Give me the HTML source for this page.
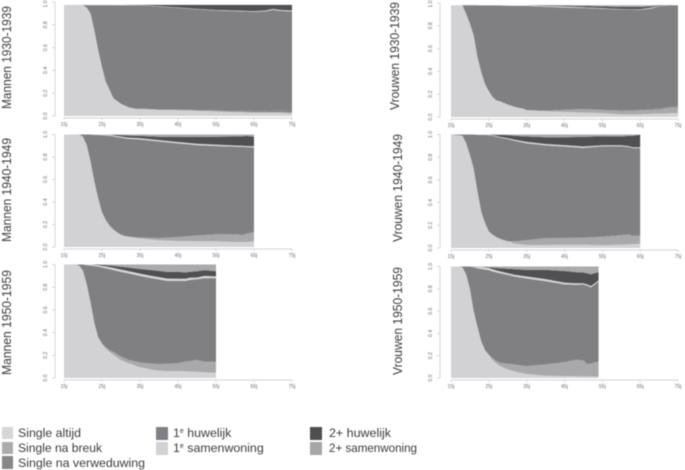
<!DOCTYPE html>
<html lang="nl">
<head>
<meta charset="utf-8">
<title>Levensloop per geboortecohort</title>
<style>
html,body{margin:0;padding:0;background:#fff;}
#chart{display:block;width:685px;height:470px;filter:blur(.45px);font-family:"Liberation Sans",sans-serif;}
.tick{font-size:5.2px;fill:#6e6e70;}
.title{font-size:12.6px;fill:#3c3c3e;}
.legend{font-size:12.4px;fill:#3c3c3e;}
.sup{font-size:7px;}
</style>
</head>
<body>
<svg id="chart" xmlns="http://www.w3.org/2000/svg" width="685" height="470" viewBox="0 0 685 470">
  <g id="panels"></g>

  <text class="title" transform="translate(11,109) rotate(-90)" textLength="103" lengthAdjust="spacingAndGlyphs">Mannen 1930-1939</text>
  <text class="title" transform="translate(11,242) rotate(-90)" textLength="104" lengthAdjust="spacingAndGlyphs">Mannen 1940-1949</text>
  <text class="title" transform="translate(11,375) rotate(-90)" textLength="105" lengthAdjust="spacingAndGlyphs">Mannen 1950-1959</text>
  <text class="title" transform="translate(399,110) rotate(-90)" textLength="108" lengthAdjust="spacingAndGlyphs">Vrouwen 1930-1939</text>
  <text class="title" transform="translate(402,242) rotate(-90)" textLength="108" lengthAdjust="spacingAndGlyphs">Vrouwen 1940-1949</text>
  <text class="title" transform="translate(402,375) rotate(-90)" textLength="108" lengthAdjust="spacingAndGlyphs">Vrouwen 1950-1959</text>

  <g>
    <g>
      <rect x="2" y="427" width="11" height="12" fill="#d6d6d8"/>
      <text class="legend" x="18" y="437" textLength="63" lengthAdjust="spacingAndGlyphs">Single altijd</text>
    </g>
    <g>
      <rect x="2" y="442" width="11" height="12" fill="#acacae"/>
      <text class="legend" x="18" y="452" textLength="84" lengthAdjust="spacingAndGlyphs">Single na breuk</text>
    </g>
    <g>
      <rect x="2" y="456" width="11" height="13" fill="#87878a"/>
      <text class="legend" x="18" y="467" textLength="127" lengthAdjust="spacingAndGlyphs">Single na verweduwing</text>
    </g>
    <g>
      <rect x="156" y="427" width="12" height="13" fill="#808084"/>
      <text class="legend" x="173" y="437">1<tspan class="sup" dy="-4">e</tspan><tspan dy="4"> huwelijk</tspan></text>
    </g>
    <g>
      <rect x="156" y="442" width="12" height="13" fill="#d2d2d3"/>
      <text class="legend" x="173" y="452">1<tspan class="sup" dy="-4">e</tspan><tspan dy="4"> samenwoning</tspan></text>
    </g>
    <g>
      <rect x="310" y="427" width="12" height="13" fill="#4f4f52"/>
      <text class="legend" x="329" y="437" textLength="62" lengthAdjust="spacingAndGlyphs">2+ huwelijk</text>
    </g>
    <g>
      <rect x="310" y="442" width="12" height="13" fill="#a6a6a8"/>
      <text class="legend" x="329" y="452" textLength="88" lengthAdjust="spacingAndGlyphs">2+ samenwoning</text>
    </g>
  </g>
</svg>

<script>
const xTickLabels = ["15j", "25j", "35j", "45j", "55j", "65j", "75j"];
const xTickAges = [15, 25, 35, 45, 55, 65, 75];
const yTickLabels = ["0.0", "0.2", "0.4", "0.6", "0.8", "1.0"];
const yTickValues = [0, 0.2, 0.4, 0.6, 0.8, 1];

/* Mannen 1930-1939 */
const m30Ages = [15,20,21,22,23,24,25,26,27,28,29,30,32,34,36,40,45,50,55,60,65,68,70,72,75];
const m30Altijd = [.975,.975,.95,.90,.75,.58,.43,.30,.23,.155,.13,.105,.075,.06,.06,.053,.05,.045,.04,.033,.03,.03,.03,.028,.025];
const m30Breuk = [0,0,0,0,0,0,0,0,0,.002,.002,.003,.003,.004,.004,.004,.004,.004,.005,.005,.005,.005,.005,.005,.005];
const m30Verw = [0,0,0,0,0,0,0,0,0,0,0,0,0,0,0,0,.002,.004,.006,.008,.01,.012,.014,.016,.018];
const m30Samen1 = [0,0,.002,.002,.002,.002,.002,.002,.002,.002,.002,.003,.003,.003,.003,.004,.004,.004,.004,.005,.005,.007,.009,.008,.008];
const m30Huw2 = [0,0,0,0,0,0,0,0,0,0,0,0,.001,.002,.003,.012,.022,.035,.045,.05,.055,.05,.035,.045,.05];
const m30Samen2 = [0,0,0,0,0,0,0,0,0,0,0,0,0,0,0,0,0,0,0,0,0,0,0,0,0];

/* Mannen 1940-1949 */
const m40Ages = [15,19,20,21,22,23,24,25,26,27,28,29,30,31,32,35,40,45,50,55,60,62,63,65];
const m40Altijd = [1,1,.98,.905,.76,.58,.435,.31,.24,.19,.155,.13,.11,.095,.09,.077,.06,.053,.05,.05,.045,.045,.045,.05];
const m40Breuk = [0,0,0,0,0,0,0,0,0,0,0,0,0,.003,.003,.006,.02,.035,.05,.06,.065,.06,.07,.08];
const m40Verw = [0,0,0,0,0,0,0,0,0,0,0,0,0,0,0,0,0,.001,.002,.003,.005,.005,.006,.006];
const m40Samen1 = [0,0,0,0,0,.002,.004,.006,.007,.008,.009,.01,.01,.011,.011,.012,.012,.012,.012,.012,.01,.01,.01,.01];
const m40Huw2 = [0,0,0,0,0,0,0,0,0,0,.004,.008,.012,.015,.018,.02,.03,.047,.06,.07,.08,.085,.09,.083];
const m40Samen2 = [0,0,0,0,0,0,0,0,.002,.003,.004,.005,.006,.008,.01,.012,.02,.02,.022,.02,.018,.015,.012,.02];

/* Mannen 1950-1959 */
const m50Ages = [15,18,19,20,21,22,23,24,25,26,27,28,30,32,35,38,40,42,45,47,48,50,52,55];
const m50Altijd = [1,1,.99,.945,.825,.665,.485,.36,.30,.26,.23,.205,.158,.13,.096,.075,.064,.062,.061,.058,.056,.055,.05,.046];
const m50Breuk = [0,0,0,0,0,0,0,0,.005,.01,.015,.025,.03,.03,.042,.052,.059,.062,.068,.085,.09,.103,.09,.094];
const m50Verw = [0,0,0,0,0,0,0,0,0,0,0,0,0,0,0,0,0,.001,.002,.002,.003,.003,.003,.004];
const m50Samen1 = [0,0,0,0,.005,.01,.012,.014,.015,.016,.018,.018,.02,.02,.02,.02,.02,.02,.02,.02,.018,.015,.02,.015];
const m50Huw2 = [0,0,0,0,0,0,.002,.005,.01,.012,.015,.018,.025,.03,.04,.05,.055,.058,.06,.055,.052,.055,.05,.045];
const m50Samen2 = [0,0,0,0,0,0,0,0,.002,.005,.008,.012,.02,.028,.04,.05,.056,.065,.065,.07,.065,.06,.05,.06];

/* Vrouwen 1930-1939 */
const v30Ages = [15,18,19,20,21,22,23,24,25,26,27,28,30,32,34,35,40,45,50,55,60,65,68,70,73,75];
const v30Altijd = [.98,.98,.906,.82,.716,.526,.395,.29,.228,.175,.146,.137,.11,.088,.073,.058,.05,.044,.038,.035,.023,.023,.028,.03,.033,.035];
const v30Breuk = [0,0,0,0,0,0,0,0,0,0,0,0,0,0,0,.003,.005,.02,.03,.025,.03,.035,.035,.035,.05,.05];
const v30Verw = [0,0,0,0,0,0,0,0,0,0,0,0,0,0,0,0,0,0,.002,.003,.005,.006,.007,.008,.008,.008];
const v30Samen1 = [0,0,0,0,0,0,.002,.002,.002,.002,.002,.002,.004,.005,.005,.005,.008,.01,.006,.005,.003,.004,.008,.004,0,0];
const v30Huw2 = [0,0,0,0,0,0,0,0,0,0,0,0,0,0,0,0,.005,.008,.012,.015,.018,.02,.012,.005,0,0];
const v30Samen2 = [0,0,0,0,0,0,0,0,0,0,0,0,0,0,0,0,0,.002,.005,.01,.015,.015,.008,0,0,0];

/* Vrouwen 1940-1949 */
const v40Ages = [15,18,19,20,21,22,23,24,25,26,27,28,30,32,35,40,45,50,55,60,62,63,65];
const v40Altijd = [1,.99,.926,.82,.70,.50,.32,.22,.147,.118,.097,.08,.059,.038,.026,.026,.029,.029,.024,.03,.032,.034,.038];
const v40Breuk = [0,0,0,0,0,0,0,0,0,0,0,0,0,.021,.042,.062,.059,.06,.073,.08,.085,.07,.065];
const v40Verw = [0,0,0,0,0,0,0,0,0,0,0,0,0,0,0,0,.001,.002,.003,.004,.004,.005,.005];
const v40Samen1 = [0,0,0,0,0,.002,.003,.004,.006,.006,.007,.007,.008,.01,.012,.012,.012,.012,.008,.008,.008,.008,.008];
const v40Huw2 = [0,0,0,0,0,0,0,0,0,.005,.01,.018,.026,.035,.047,.06,.07,.085,.08,.077,.09,.1,.11];
const v40Samen2 = [0,0,0,0,0,0,0,0,0,0,.002,.004,.006,.012,.018,.024,.024,.021,.015,.018,.012,.012,.002];

/* Vrouwen 1950-1959 */
const v50Ages = [15,17,18,19,20,21,22,23,24,25,26,27,28,30,32,35,40,45,48,50,51,52,54];
const v50Altijd = [1,1,.994,.93,.80,.60,.46,.33,.25,.207,.16,.13,.107,.077,.057,.036,.02,.018,.016,.015,.015,.014,.012];
const v50Breuk = [0,0,0,0,0,0,0,0,0,.003,.016,.022,.03,.051,.063,.071,.102,.122,.145,.14,.107,.115,.134];
const v50Verw = [0,0,0,0,0,0,0,0,0,0,0,0,0,0,0,0,0,.002,.003,.003,.003,.003,.004];
const v50Samen1 = [0,0,0,0,0,.005,.015,.018,.02,.02,.02,.018,.016,.015,.016,.018,.018,.015,.014,.012,.012,.012,.01];
const v50Huw2 = [0,0,0,0,0,.001,.002,.003,.004,.006,.015,.022,.028,.04,.05,.06,.083,.105,.1,.096,.1,.105,.075];
const v50Samen2 = [0,0,0,0,0,0,0,.002,.004,.006,.01,.013,.016,.02,.025,.03,.03,.04,.05,.054,.06,.07,.05];

const SVGNS = "http://www.w3.org/2000/svg";
const panelsRoot = document.getElementById("panels");

const stateNames = ["single-altijd", "single-na-breuk", "single-na-verweduwing", "1e-huwelijk", "1e-samenwoning", "2-plus-huwelijk", "2-plus-samenwoning"];
const stateColors = ["#d2d2d4", "#a9a9ab", "#858588", "#808083", "#d6d6d6", "#505053", "#aaaaac"];

function make(tag, attrs, parent) {
  const el = document.createElementNS(SVGNS, tag);
  for (const k in attrs) el.setAttribute(k, attrs[k]);
  parent.appendChild(el);
  return el;
}

function drawPanel(p) {
  const xScale = a => p.x15 + (a - 15) * (p.x75 - p.x15) / 60;
  const yScale = v => p.y0 - v * (p.y0 - p.y1);

  const g = make("g", {}, panelsRoot);
  
  

  /* huwelijk is the remainder: every state shares up to the panel total */
  const huwelijk = p.ages.map((_, i) => Math.max(0, p.total - p.altijd[i] - p.breuk[i] - p.verw[i] - p.samen1[i] - p.huw2[i] - p.samen2[i]));
  const stack = [p.altijd, p.breuk, p.verw, huwelijk, p.samen1, p.huw2, p.samen2];

  const lower = p.ages.map(() => 0);
  stack.forEach((series, s) => {
    const upper = lower.map((v, i) => v + series[i]);
    const top = p.ages.map((a, i) => xScale(a).toFixed(2) + "," + yScale(upper[i]).toFixed(2));
    const bottom = p.ages.map((a, i) => xScale(a).toFixed(2) + "," + yScale(lower[i]).toFixed(2)).reverse();
    const area = make("polygon", { points: top.concat(bottom).join(" "), fill: stateColors[s] }, g);
    
    
    upper.forEach((v, i) => { lower[i] = v; });
  });

  /* x axis */
  const xAxisY = p.y0 + 2;
  const xAxis = make("g", {}, g);
  
  
  make("line", { x1: xScale(15), x2: xScale(75), y1: xAxisY, y2: xAxisY, stroke: "#c4c4c6", "stroke-width": .7 }, xAxis);
  xTickAges.forEach((a, i) => {
    make("line", { x1: xScale(a), x2: xScale(a), y1: xAxisY, y2: xAxisY + 2, stroke: "#c4c4c6", "stroke-width": .7 }, xAxis);
    const label = make("text", { class: "tick", x: xScale(a), y: xAxisY + 8, "text-anchor": "middle" }, xAxis);
    
    
    label.textContent = xTickLabels[i];
  });

  /* y axis */
  const yAxis = make("g", {}, g);
  
  
  make("line", { x1: p.axisX, x2: p.axisX, y1: yScale(0), y2: yScale(1), stroke: "#c4c4c6", "stroke-width": .7 }, yAxis);
  yTickValues.forEach((v, i) => {
    make("line", { x1: p.axisX - 3, x2: p.axisX, y1: yScale(v), y2: yScale(v), stroke: "#c4c4c6", "stroke-width": .7 }, yAxis);
    const ly = Math.max(yScale(v), 4);
    const label = make("text", { class: "tick", transform: "translate(" + (p.axisX - 8) + "," + ly + ") rotate(-90)", "text-anchor": "middle" }, yAxis);
    
    
    label.textContent = yTickLabels[i];
  });
}

drawPanel({ id: "mannen-1930-1939", x15: 64, x75: 292, axisX: 55, y0: 116, y1: 2, total: .975,
  ages: m30Ages, altijd: m30Altijd, breuk: m30Breuk, verw: m30Verw, samen1: m30Samen1, huw2: m30Huw2, samen2: m30Samen2 });
drawPanel({ id: "mannen-1940-1949", x15: 64, x75: 292, axisX: 55, y0: 247, y1: 134.5, total: 1,
  ages: m40Ages, altijd: m40Altijd, breuk: m40Breuk, verw: m40Verw, samen1: m40Samen1, huw2: m40Huw2, samen2: m40Samen2 });
drawPanel({ id: "mannen-1950-1959", x15: 64, x75: 292, axisX: 55, y0: 378, y1: 264.5, total: 1,
  ages: m50Ages, altijd: m50Altijd, breuk: m50Breuk, verw: m50Verw, samen1: m50Samen1, huw2: m50Huw2, samen2: m50Samen2 });
drawPanel({ id: "vrouwen-1930-1939", x15: 451, x75: 678, axisX: 440, y0: 117, y1: 3, total: .98,
  ages: v30Ages, altijd: v30Altijd, breuk: v30Breuk, verw: v30Verw, samen1: v30Samen1, huw2: v30Huw2, samen2: v30Samen2 });
drawPanel({ id: "vrouwen-1940-1949", x15: 451, x75: 678, axisX: 440, y0: 248, y1: 134.5, total: 1,
  ages: v40Ages, altijd: v40Altijd, breuk: v40Breuk, verw: v40Verw, samen1: v40Samen1, huw2: v40Huw2, samen2: v40Samen2 });
drawPanel({ id: "vrouwen-1950-1959", x15: 451, x75: 678, axisX: 440, y0: 378, y1: 266.5, total: 1,
  ages: v50Ages, altijd: v50Altijd, breuk: v50Breuk, verw: v50Verw, samen1: v50Samen1, huw2: v50Huw2, samen2: v50Samen2 });
</script>
</body>
</html>
